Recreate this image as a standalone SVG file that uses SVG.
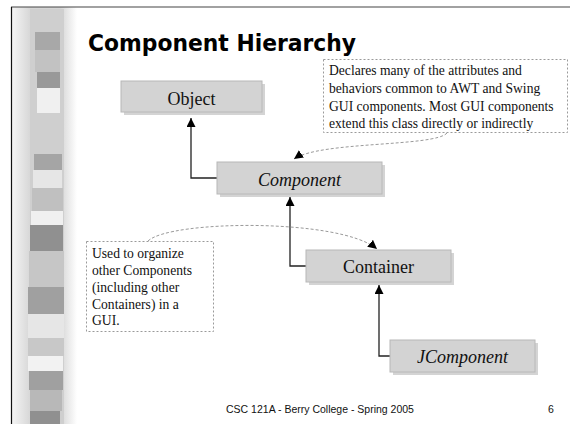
<svg xmlns="http://www.w3.org/2000/svg" width="570" height="424" viewBox="0 0 570 424">
<style>
.node rect.box{fill:#d3d3d3;stroke:#b8b8b8;stroke-width:1}
.node rect.shadow{fill:#a0a0a0;opacity:0.45}
.label{font-family:"Liberation Serif","Times New Roman",serif;font-size:18px;fill:#111;text-anchor:middle}
.it{font-style:italic}
.note rect{fill:#fff;stroke:#9a9a9a;stroke-width:1;stroke-dasharray:2,2}
.note text{font-family:"Liberation Serif","Times New Roman",serif;font-size:13.6px;fill:#111}
.conn path.solid{fill:none;stroke:#222;stroke-width:1.3}
.conn path.dash{fill:none;stroke:#9a9a9a;stroke-width:1;stroke-dasharray:3,2}
.footer{font-family:"Liberation Sans",Arial,sans-serif;font-size:10.5px;fill:#111}
</style>
<defs>
<marker id="arr" viewBox="0 0 10 10" refX="10" refY="5" markerWidth="9" markerHeight="9" markerUnits="userSpaceOnUse" orient="auto">
<path d="M0,0 L10,5 L0,10 z" fill="#000"/>
</marker>
<marker id="arrs" viewBox="0 0 10 10" refX="10" refY="5" markerWidth="9" markerHeight="9" markerUnits="userSpaceOnUse" orient="auto">
<path d="M0,0 L10,5 L0,10 z" fill="#000"/>
</marker>
<linearGradient id="band" x1="0" y1="0" x2="1" y2="0">
<stop offset="0" stop-color="#f6f6f6"/>
<stop offset="0.3" stop-color="#d6d6d6"/>
<stop offset="0.75" stop-color="#d6d6d6"/>
<stop offset="1" stop-color="#ffffff"/>
</linearGradient>
</defs>
<rect width="570" height="424" fill="#fff"/>
<g id="decor">
<rect x="11" y="7" width="66" height="417" fill="url(#band)"/>
<rect x="30" y="9" width="34" height="415" fill="#cfcfcf"/>
<rect x="35" y="32" width="25" height="18" fill="#a8a8a8"/>
<rect x="35" y="50" width="25" height="22" fill="#c2c2c2"/>
<rect x="37" y="72" width="23" height="16" fill="#999"/>
<rect x="37" y="88" width="23" height="25" fill="#f0f0f0"/>
<rect x="34" y="154" width="28" height="16" fill="#a5a5a5"/>
<rect x="33" y="170" width="29" height="18" fill="#e6e6e6"/>
<rect x="32" y="188" width="31" height="23" fill="#c0c0c0"/>
<rect x="31" y="211" width="32" height="14" fill="#f0f0f0"/>
<rect x="30" y="225" width="33" height="26" fill="#909090"/>
<rect x="29" y="251" width="35" height="36" fill="#c6c6c6"/>
<rect x="28" y="287" width="36" height="27" fill="#a0a0a0"/>
<rect x="28" y="314" width="36" height="24" fill="#e6e6e6"/>
<rect x="28" y="338" width="36" height="18" fill="#c8c8c8"/>
<rect x="28" y="356" width="35" height="15" fill="#f2f2f2"/>
<rect x="29" y="371" width="34" height="19" fill="#a0a0a0"/>
<rect x="30" y="390" width="32" height="21" fill="#b8b8b8"/>
<rect x="30" y="411" width="30" height="13" fill="#909090"/>
<line x1="11" y1="7" x2="570" y2="7" stroke="#444" stroke-width="1.2"/>
<line x1="11.5" y1="7" x2="11.5" y2="424" stroke="#111" stroke-width="1.2"/>
</g>
<text x="88" y="51" font-family="DejaVu Sans, sans-serif" font-weight="bold" font-size="23" textLength="268" lengthAdjust="spacingAndGlyphs" fill="#000">Component Hierarchy</text>
<g class="conn" id="connectors">
<path class="solid" d="M217,178 H191 V118" marker-end="url(#arr)"/>
<path class="solid" d="M306,266 H290 V197" marker-end="url(#arr)"/>
<path class="solid" d="M390,356 H379 V285" marker-end="url(#arr)"/>
<path class="dash" d="M447,133 C435,147 320,141 294,159" marker-end="url(#arrs)"/>
<path class="dash" d="M148,241 C170,220 340,218 377,249" marker-end="url(#arrs)"/>
</g>
<g class="node" id="object">
<rect class="shadow" x="124" y="84" width="141" height="31"/>
<rect class="box" x="121" y="81" width="141" height="31"/>
<text class="label" x="191.5" y="105">Object</text>
</g>
<g class="node" id="component">
<rect class="shadow" x="220" y="165" width="165" height="32"/>
<rect class="box" x="217" y="162" width="165" height="32"/>
<text class="label it" x="299.5" y="186">Component</text>
</g>
<g class="node" id="container">
<rect class="shadow" x="309" y="253" width="145" height="32"/>
<rect class="box" x="306" y="250" width="145" height="32"/>
<text class="label" x="378.5" y="273">Container</text>
</g>
<g class="node" id="jcomponent">
<rect class="shadow" x="393" y="343" width="145" height="32"/>
<rect class="box" x="390" y="340" width="145" height="32"/>
<text class="label it" x="462.5" y="363">JComponent</text>
</g>
<g class="note" id="note-component">
<rect x="323.5" y="59.5" width="244" height="73"/>
<text x="329" y="75">Declares many of the attributes and</text>
<text x="329" y="93">behaviors common to AWT and Swing</text>
<text x="329" y="111">GUI components. Most GUI components</text>
<text x="329" y="128">extend this class directly or indirectly</text>
</g>
<g class="note" id="note-container">
<rect x="86.5" y="241.5" width="127" height="90"/>
<text x="92" y="258" font-size="14">Used to organize</text>
<text x="92" y="275" font-size="14">other Components</text>
<text x="92" y="292" font-size="14">(including other</text>
<text x="92" y="309" font-size="14">Containers) in a</text>
<text x="92" y="325" font-size="14">GUI.</text>
</g>
<text class="footer" x="320" y="413" text-anchor="middle">CSC 121A - Berry College - Spring 2005</text>
<text class="footer" x="548" y="413">6</text>
</svg>
